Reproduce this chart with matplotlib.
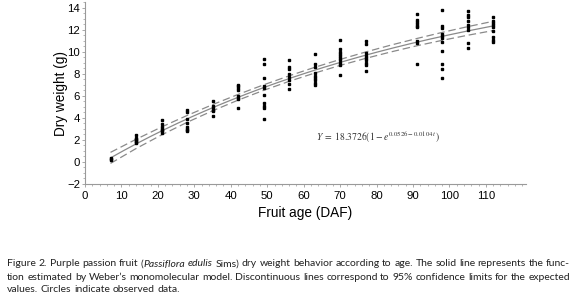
import numpy as np
import matplotlib
matplotlib.use("Agg")
import matplotlib.pyplot as plt
from matplotlib.ticker import MultipleLocator

# Observed data (fruit age in DAF, dry weight in g)
ages = [7, 14, 21, 28, 35, 42, 49, 56, 63, 70, 77, 91, 98, 105, 112]
weights = [
    [0.2, 0.3, 0.4],
    [2.4, 2.2, 2.1, 2.0, 1.9, 1.8, 1.7],
    [3.8, 3.4, 3.2, 3.0, 2.9, 2.8, 2.6],
    [4.7, 4.5, 3.9, 3.5, 3.2, 3.0, 2.9, 2.8],
    [5.5, 5.1, 4.9, 4.7, 4.6, 4.2],
    [7.0, 6.9, 6.7, 6.5, 6.0, 5.8, 5.7, 4.9],
    [9.3, 8.9, 7.6, 6.9, 6.7, 6.1, 5.3, 5.1, 4.9, 3.9],
    [9.2, 8.6, 8.4, 8.0, 7.7, 7.4, 7.1, 6.6],
    [9.8, 8.9, 8.6, 8.1, 7.8, 7.6, 7.4, 7.2, 7.0],
    [11.1, 10.2, 10.0, 9.8, 9.6, 9.4, 9.2, 9.0, 8.8, 7.9],
    [11.0, 10.7, 9.9, 9.6, 9.4, 9.2, 9.0, 8.8, 8.2],
    [13.4, 12.9, 12.7, 12.5, 12.3, 12.2, 11.0, 10.8, 8.9],
    [13.8, 12.3, 12.1, 11.6, 11.4, 11.2, 10.9, 10.1, 8.9, 8.4, 7.6],
    [13.7, 13.3, 13.1, 12.8, 12.4, 12.2, 12.0, 10.8, 10.3],
    [13.1, 12.8, 12.6, 12.4, 12.2, 11.9, 11.3, 11.1, 10.9],
]

# Weber monomolecular model parameters
A, b0, b1 = 18.3726, 0.0526, 0.0104

# 95% confidence half-widths read at these ages
band_ages = [7, 14, 21, 28, 35, 42, 49, 56, 63, 70, 77, 84, 91, 98, 105, 112]
band_half = [0.50, 0.42, 0.36, 0.31, 0.28, 0.26, 0.25, 0.25, 0.26, 0.27, 0.29, 0.31, 0.33, 0.36, 0.39, 0.42]

x_ticks = list(range(0, 111, 10))
y_ticks = list(range(-2, 15, 2))

fig = plt.figure(figsize=(5.8, 2.96), dpi=100)
ax = fig.add_axes([85 / 580, 112 / 296, 441 / 580, 182 / 296])

xs = [a for a, ws in zip(ages, weights) for _ in ws]
ys = [w for ws in weights for w in ws]
ax.plot(xs, ys, linestyle="none", marker="s", markersize=1.9, color="black", zorder=3)


def model(tt):
    return A * (1 - np.exp(b0 - b1 * np.asarray(tt, dtype=float)))


t = np.linspace(7, 112, 200)
ax.plot(t, model(t), color="#8a8a8a", lw=0.9)
bm = model(band_ages)
ax.plot(band_ages, bm + np.array(band_half), color="#8a8a8a", lw=0.9, ls=(0, (6, 3)))
ax.plot(band_ages, bm - np.array(band_half), color="#8a8a8a", lw=0.9, ls=(0, (6, 3)))

ax.set_xlim(0, 121)
ax.set_ylim(-2, 14.5)
ax.set_xticks(x_ticks)
ax.set_yticks(y_ticks)
ax.xaxis.set_minor_locator(MultipleLocator(2))
ax.yaxis.set_minor_locator(MultipleLocator(0.5))
for s in ["top", "right"]:
    ax.spines[s].set_visible(False)
for s in ["left", "bottom"]:
    ax.spines[s].set_color("#9a9a9a")
    ax.spines[s].set_linewidth(0.8)
ax.tick_params(which="major", length=2.5, width=0.6, color="#9a9a9a", labelsize=8.2)
ax.tick_params(axis="x", which="major", pad=2.5)
ax.tick_params(axis="y", which="major", pad=1)
ax.tick_params(which="minor", length=1.3, width=0.5, color="#9a9a9a")
for lab in ax.get_xticklabels() + ax.get_yticklabels():
    lab.set_fontfamily("Liberation Sans")

ax.set_xlabel("Fruit age (DAF)", fontsize=9.8, family="Liberation Sans", labelpad=4)
ax.set_ylabel("Dry weight (g)", fontsize=9.8, family="Liberation Sans", labelpad=-0.5)

plt.rcParams["mathtext.fontset"] = "stix"
ax.text(63.5, 2.2, r"$Y\;=\;18.3726(1-e^{0.0526-0.0104\,t})$", fontsize=6.9, color="#333333",
        ha="left", va="center")

# Caption (justified lines)
line1_rest = "dry weight behavior according to age. The solid line represents the func-"
line2 = "tion estimated by Weber\u2019s monomolecular model. Discontinuous lines correspond to 95% confidence limits for the expected"
line3 = "values. Circles indicate observed data."

fs = 7.5
x_left, x_right = 7, 570
r = fig.canvas.get_renderer()


def text_width(txt, it):
    tt = fig.text(0, 0, txt, fontsize=fs, family="Lato", style="italic" if it else "normal")
    w = tt.get_window_extent(r).width
    tt.remove()
    return w


def draw_line(tokens, yp, justify):
    widths = [sum(text_width(txt, it) for txt, it in word) for word in tokens]
    space = text_width("a a", False) - text_width("aa", False)
    if justify:
        gap = (x_right - x_left - sum(widths)) / (len(tokens) - 1)
    else:
        gap = space
    x = x_left
    for word, w in zip(tokens, widths):
        xx = x
        for txt, it in word:
            fig.text(xx / 580, 1 - yp / 296, txt, fontsize=fs, family="Lato",
                     style="italic" if it else "normal", va="center", ha="left", color="#222222")
            xx += text_width(txt, it)
        x += w + gap


def tokenize(line):
    return [[(w, False)] for w in line.split(" ")]


t1 = [[("Figure", False)], [("2.", False)], [("Purple", False)], [("passion", False)], [("fruit", False)],
      [("(", False), ("Passiflora", True)], [("edulis", True)], [("Sims)", False)]]
t1 += tokenize(line1_rest)
draw_line(t1, 264, True)
draw_line(tokenize(line2), 277, True)
draw_line(tokenize(line3), 289.5, False)

fig.savefig("out.png", dpi=100)
